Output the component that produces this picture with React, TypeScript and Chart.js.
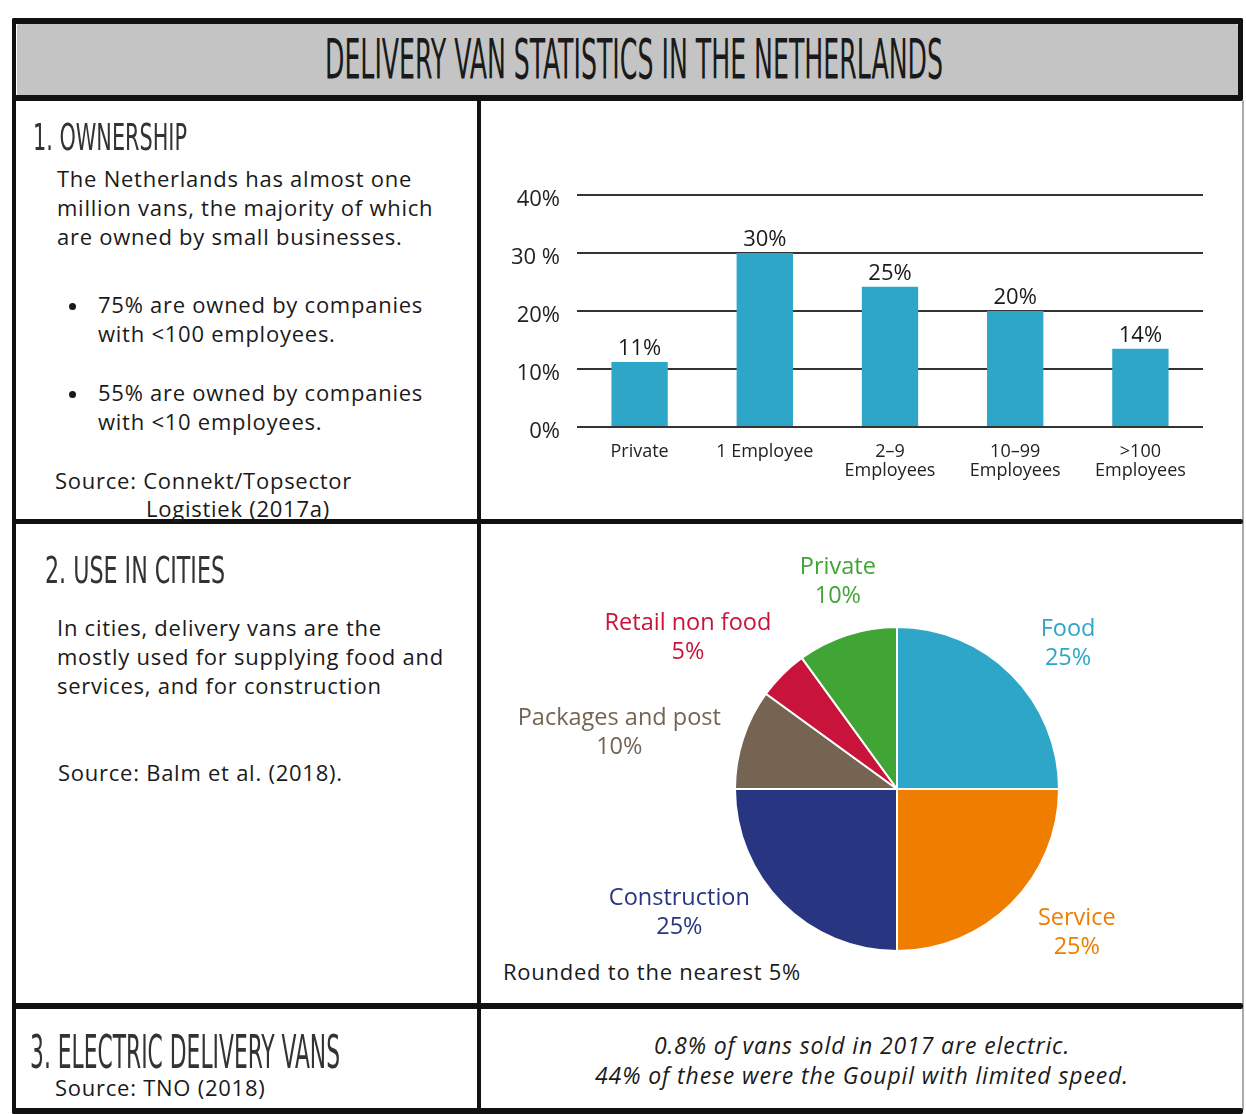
import React, { useEffect, useRef } from "react";
import { Chart, registerables } from "chart.js";
Chart.register(...registerables);

// ---------- DATA ----------
const barCategories: string[][] = [["Private"], ["1 Employee"], ["2–9", "Employees"], ["10–99", "Employees"], [">100", "Employees"]];
const barValues: number[] = [11.2, 30, 24.2, 20, 13.5];
const barValueLabels: string[] = ["11%", "30%", "25%", "20%", "14%"];
const yTickLabels: string[] = ["0%", "10%", "20%", "30 %", "40%"];

const pieCategories: string[] = ["Food", "Service", "Construction", "Packages and post", "Retail non food", "Private"];
const pieValues: number[] = [25, 25, 25, 10, 5, 10];
const pieValueLabels: string[] = ["25%", "25%", "25%", "10%", "5%", "10%"];
const pieColors: string[] = ["#2ea6c8", "#ef7d00", "#283580", "#756451", "#c8143a", "#40a535"];
// label placement nudges (layout only), in px
const pieLabelNudge: number[][] = [[17, 9], [20, -16], [-42, -52], [-8, 31], [-27, 31], [8, 0]];

const BODY_FONT = "'Open Sans', 'DejaVu Sans', sans-serif";
const HEAD_FONT = "'DejaVu Sans Condensed', 'DejaVu Sans', sans-serif";

const barLabelPlugin = {
  id: "barLabels",
  afterDatasetsDraw(chart: any) {
    const ctx = chart.ctx;
    const meta = chart.getDatasetMeta(0);
    ctx.save();
    ctx.font = `22px ${BODY_FONT}`;
    ctx.fillStyle = "#1a1a1a";
    ctx.textAlign = "center";
    ctx.textBaseline = "middle";
    meta.data.forEach((bar: any, i: number) => {
      ctx.fillText(barValueLabels[i], bar.x, bar.y - 13);
    });
    ctx.restore();
  },
};

const pieLabelPlugin = {
  id: "pieLabels",
  afterDatasetsDraw(chart: any) {
    const ctx = chart.ctx;
    const meta = chart.getDatasetMeta(0);
    const lh = 29;
    ctx.save();
    ctx.font = `23.5px ${BODY_FONT}`;
    ctx.textAlign = "center";
    ctx.textBaseline = "middle";
    meta.data.forEach((arc: any, i: number) => {
      const mid = (arc.startAngle + arc.endAngle) / 2;
      const dx = Math.cos(mid);
      const dy = Math.sin(mid);
      const lines = [pieCategories[i], pieValueLabels[i]];
      const w = Math.max(...lines.map((l) => ctx.measureText(l).width));
      const h = lines.length * lh;
      const ext = Math.abs(dx) * w / 2 + Math.abs(dy) * h / 2;
      const d = arc.outerRadius + 16 + ext;
      const cx = arc.x + dx * d + pieLabelNudge[i][0];
      const cy = arc.y + dy * d + pieLabelNudge[i][1];
      ctx.fillStyle = pieColors[i];
      lines.forEach((l, k) => {
        ctx.fillText(l, cx, cy - h / 2 + lh / 2 + k * lh);
      });
    });
    ctx.restore();
  },
};

function BarChart() {
  const ref = useRef<HTMLCanvasElement>(null);
  useEffect(() => {
    const chart = new Chart(ref.current as HTMLCanvasElement, {
      type: "bar",
      data: {
        labels: barCategories as any,
        datasets: [
          {
            data: barValues,
            backgroundColor: "#2ea6c8",
            barPercentage: 0.45,
            categoryPercentage: 1,
          },
        ],
      },
      options: {
        animation: false,
        responsive: false,
        maintainAspectRatio: false,
        layout: { padding: { top: 95, right: 35, left: 0, bottom: 0 } },
        plugins: { legend: { display: false }, tooltip: { enabled: false } },
        scales: {
          x: {
            grid: { display: false, drawTicks: false },
            border: { display: false },
            ticks: {
              color: "#222",
              font: { family: BODY_FONT, size: 18, lineHeight: 1.08 },
              padding: 15,
              maxRotation: 0,
              autoSkip: false,
            },
            afterFit(s: any) {
              s.height = 91;
            },
          },
          y: {
            min: 0,
            max: 40,
            ticks: {
              stepSize: 10,
              callback: (v: any) => yTickLabels[Math.round(Number(v) / 10)],
              color: "#222",
              font: { family: BODY_FONT, size: 22 },
              padding: 17,
              labelOffset: 5,
            },
            grid: { color: "#333", lineWidth: 2, drawTicks: false },
            border: { display: false },
            afterFit(s: any) {
              s.width = 95;
            },
          },
        },
      },
      plugins: [barLabelPlugin],
    } as any);
    return () => chart.destroy();
  }, []);
  return (
    <canvas
      ref={ref}
      width={756}
      height={418}
      style={{ position: "absolute", left: 482, top: 100, width: 756, height: 418 }}
    />
  );
}

function PieChart() {
  const ref = useRef<HTMLCanvasElement>(null);
  useEffect(() => {
    const chart = new Chart(ref.current as HTMLCanvasElement, {
      type: "pie",
      data: {
        labels: pieCategories,
        datasets: [
          {
            data: pieValues,
            backgroundColor: pieColors,
            borderColor: "#ffffff",
            borderWidth: 2,
          },
        ],
      },
      options: {
        animation: false,
        responsive: false,
        maintainAspectRatio: false,
        layout: { padding: { left: 252, right: 178, top: 101, bottom: 48 } },
        plugins: { legend: { display: false }, tooltip: { enabled: false } },
      },
      plugins: [pieLabelPlugin],
    } as any);
    return () => chart.destroy();
  }, []);
  return (
    <canvas
      ref={ref}
      width={756}
      height={475}
      style={{ position: "absolute", left: 482, top: 525, width: 756, height: 475 }}
    />
  );
}

function Line(props: { x: number; cy: number; text: string; size?: number; italic?: boolean; center?: boolean; color?: string; spacing?: number }) {
  const size = props.size ?? 22;
  const style: any = {
    position: "absolute",
    top: props.cy - 16,
    lineHeight: "30px",
    height: 30,
    fontSize: size,
    fontFamily: BODY_FONT,
    letterSpacing: `${props.spacing ?? 0.75}px`,
    color: props.color ?? "#1a1a1a",
    whiteSpace: "pre",
    fontStyle: props.italic ? "italic" : "normal",
  };
  if (props.center) {
    style.left = props.x - 400;
    style.width = 800;
    style.textAlign = "center";
  } else {
    style.left = props.x;
  }
  return <div style={style}>{props.text}</div>;
}

function Heading(props: { x: number; baseline: number; len: number; size: number; text: string; color?: string; blur?: number }) {
  return (
    <svg
      width={1246}
      height={120}
      style={{ position: "absolute", left: 0, top: props.baseline - 90, overflow: "visible", filter: props.blur ? `blur(${props.blur}px)` : undefined }}
    >
      <text
        x={props.x}
        y={90}
        textLength={props.len}
        lengthAdjust="spacingAndGlyphs"
        fontFamily={HEAD_FONT}
        fontSize={props.size}
        fill={props.color ?? "#1a1a1a"}
      >
        {props.text}
      </text>
    </svg>
  );
}

function Rule(props: { x: number; y: number; w: number; h: number; c?: string }) {
  return (
    <div
      style={{ position: "absolute", left: props.x, top: props.y, width: props.w, height: props.h, background: props.c ?? "#111", borderRadius: 2 }}
    />
  );
}

function Dot(props: { x: number; cy: number }) {
  return (
    <div
      style={{ position: "absolute", left: props.x - 3.5, top: props.cy - 3.5, width: 7, height: 7, borderRadius: 4, background: "#1a1a1a" }}
    />
  );
}

export default function App() {
  return (
    <div
      style={{ position: "absolute", left: 0, top: 0, width: 1246, height: 1114, background: "#fff", overflow: "hidden" }}
    >
      {/* title band */}
      <Rule x={17} y={24} w={1221} h={72} c="#c4c4c4" />
      <Rule x={12} y={18} w={1231} h={6} />
      <Rule x={12} y={95} w={1231} h={6} />
      <Rule x={1238} y={18} w={5} h={82} />
      {/* frame */}
      <Rule x={12} y={18} w={4} h={1096} />
      <Rule x={477} y={98} w={4} h={1016} />
      <Rule x={1242} y={100} w={2} h={1010} c="#aaa" />
      <Rule x={12} y={519} w={1231} h={5} />
      <Rule x={12} y={1003} w={1231} h={6} />
      <Rule x={12} y={1108} w={1231} h={6} />

      <Heading x={325} baseline={78} len={618} size={56} text="DELIVERY VAN STATISTICS IN THE NETHERLANDS" />
      <Heading x={33} baseline={150} len={154} size={38} text="1. OWNERSHIP" color="#333" blur={0.6} />
      <Heading x={45} baseline={583} len={180} size={38} text="2. USE IN CITIES" color="#333" blur={0.6} />
      <Heading x={30} baseline={1068} len={310} size={46} text="3. ELECTRIC DELIVERY VANS" color="#333" blur={0.6} />

      {/* row 1 text */}
      <Line x={57} cy={179} text="The Netherlands has almost one" />
      <Line x={57} cy={208} text="million vans, the majority of which" />
      <Line x={57} cy={237} text="are owned by small businesses." />
      <Dot x={72} cy={306} />
      <Line x={98} cy={305} text="75% are owned by companies" />
      <Line x={98} cy={334} text="with <100 employees." />
      <Dot x={72} cy={394} />
      <Line x={98} cy={393} text="55% are owned by companies" />
      <Line x={98} cy={422} text="with <10 employees." />
      <Line x={55} cy={481} text="Source: Connekt/Topsector" />
      <Line x={146} cy={509} text="Logistiek (2017a)" />

      {/* row 2 text */}
      <Line x={57} cy={628} text="In cities, delivery vans are the" />
      <Line x={57} cy={657} text="mostly used for supplying food and" />
      <Line x={57} cy={686} text="services, and for construction" />
      <Line x={58} cy={773} text="Source: Balm et al. (2018)." />
      <Line x={503} cy={972} text="Rounded to the nearest 5%" />

      {/* row 3 text */}
      <Line x={55} cy={1088} text="Source: TNO (2018)" />
      <Line x={862} cy={1046} center italic size={23} spacing={0.9} text="0.8% of vans sold in 2017 are electric." />
      <Line x={862} cy={1076} center italic size={23} spacing={0.9} text="44% of these were the Goupil with limited speed." />

      <BarChart />
      <PieChart />
    </div>
  );
}
